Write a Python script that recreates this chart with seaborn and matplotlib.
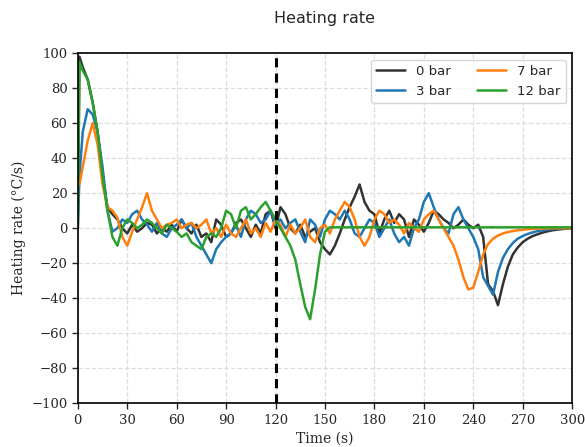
import numpy as np
import pandas as pd
import matplotlib
matplotlib.use("Agg")
import matplotlib.pyplot as plt
import seaborn as sns

# tempo (s): due punti iniziali fitti, poi ogni 3 s
tempo = [0, 1] + list(range(3, 301, 3))

bar_0 = [0, 98, 92, 85, 72, 55, 30, 12, 8, 5, 0, -3, 2, -2, 0, 3, 2, -3, 0, -2, 2,
         -2, 5, 0, -3, 2, -5, -3, -8, 5, 2, -5, -3, 3, 5, 0, -5, 2, -3, 8, 10,
         0, 12, 8, 0, -3, 2, -5, -2, 0, -8, -12, -15, -10, -3, 5, 12, 18, 25, 15, 10,
         8, -3, 5, 10, 3, 8, 5, -5, 5, 2, -2, 3, 10, 8, 5, 3, 0, 2, 5, 2,
         0, 2, -5, -32, -36, -44, -32, -22, -15, -11, -8, -6, -4.5, -3.5, -2.5, -1.8, -1.2, -0.8, -0.5, -0.2,
         0]

bar_3 = [0, 30, 55, 68, 65, 55, 35, 10, -2, 0, 5, 3, 8, 10, 5, 2, -2, 3, -3, -5, 0,
         2, 5, 0, 3, -5, -10, -15, -20, -12, -8, -5, -3, 2, -5, 5, 10, 8, 3, 5, 10,
         2, 5, 0, 3, 5, -2, -8, 5, 2, -5, 5, 10, 8, 5, 10, 5, -3, -5, 0, 5,
         3, -5, 0, 5, -3, -8, -5, -10, 0, 5, 15, 20, 12, 5, 0, -3, 8, 12, 5, 0,
         -5, -12, -28, -33, -38, -25, -17, -12, -8.5, -6, -4.5, -3.3, -2.4, -1.7, -1.2, -0.8, -0.5, -0.3, -0.1, -0.05,
         0]

bar_7 = [28, 25, 35, 50, 60, 48, 25, 12, 10, 6, -5, -10, -2, 5, 12, 20, 10, 5, 0, 2, 3,
         5, 0, 2, 3, 0, 2, 5, -3, 0, -5, 2, -3, -5, 0, 5, -3, 0, -5, 3, -2,
         5, 2, -5, 2, -3, 0, 5, -5, -8, 0, 2, -3, 5, 10, 15, 12, 5, -5, -10, -5,
         5, 10, 8, 3, 5, 2, -3, 3, 0, -2, 5, 8, 10, 5, 0, -5, -10, -18, -28, -35,
         -34, -25, -15, -9, -6, -4.2, -3, -2.2, -1.6, -1.2, -0.9, -0.6, -0.4, -0.3, -0.2, -0.1, 0, 0, 0, 0,
         0]

bar_12 = [0, 95, 90, 85, 72, 55, 30, 10, -5, -10, 0, 5, 3, 0, 2, 5, 3, 0, -3, 2, 0,
          -2, -5, -3, -8, -10, -12, -5, -3, -5, 0, 10, 8, 0, 10, 12, 5, 8, 12, 15, 10,
          5, 0, -5, -10, -18, -32, -45, -52, -35, -15, -2, 0.5, 0.5, 0.5, 0.5, 0.5, 0.5, 0.5, 0.5, 0.5,
          0.5, 0.5, 0.5, 0.5, 0.5, 0.5, 0.5, 0.5, 0.5, 0.5, 0.5, 0.5, 0.5, 0.5, 0.5, 0.5, 0.5, 0.5, 0.5, 0.5,
          0.5, 0.5, 0.5, 0.5, 0.5, 0.5, 0.5, 0.5, 0.5, 0.5, 0.5, 0.5, 0.5, 0.5, 0.5, 0.5, 0.5, 0.5, 0.5, 0.5,
          0.5]

etichette = ["0 bar", "3 bar", "7 bar", "12 bar"]
colori = ["#333333", "#1f77b4", "#ff7f0e", "#2ca02c"]
serie = [bar_0, bar_3, bar_7, bar_12]

sns.set_style("white")
plt.rcParams["font.family"] = ["DejaVu Serif"]

fig = plt.figure(figsize=(5.85, 4.47), dpi=100)
ax = fig.add_axes([0.133, 0.098, 0.845, 0.783])

for nome, colore, valori in zip(etichette, colori, serie):
    df = pd.DataFrame({"t": tempo, "v": valori})
    sns.lineplot(data=df, x="t", y="v", color=colore, lw=1.8, label=nome, ax=ax)

ax.axvline(120, color="black", ls="--", lw=2.2, dashes=(3, 2))

ax.set_xlim(0, 300)
ax.set_ylim(-100, 100)
ax.set_xticks(range(0, 301, 30))
ax.set_yticks(range(-100, 101, 20))
ax.grid(True, ls="--", color="#dddddd", lw=0.9)
ax.tick_params(axis="both", direction="out", length=4, width=1, labelsize=9.5, left=True, bottom=True)
for s in ax.spines.values():
    s.set_color("black")
    s.set_linewidth(1.2)

ax.set_xlabel("Time (s)", fontsize=10)
ax.set_ylabel("Heating rate (°C/s)", fontsize=10)
fig.suptitle("Heating rate", x=0.555, y=0.975, fontsize=11.5, family="DejaVu Sans")

leg = ax.legend(loc="upper right", ncol=2, prop={"family": "DejaVu Sans", "size": 9.5},
                frameon=True, fancybox=True, columnspacing=2.0, handlelength=2.2)
leg.get_frame().set_edgecolor("#cccccc")

plt.savefig("out.png", dpi=100)
